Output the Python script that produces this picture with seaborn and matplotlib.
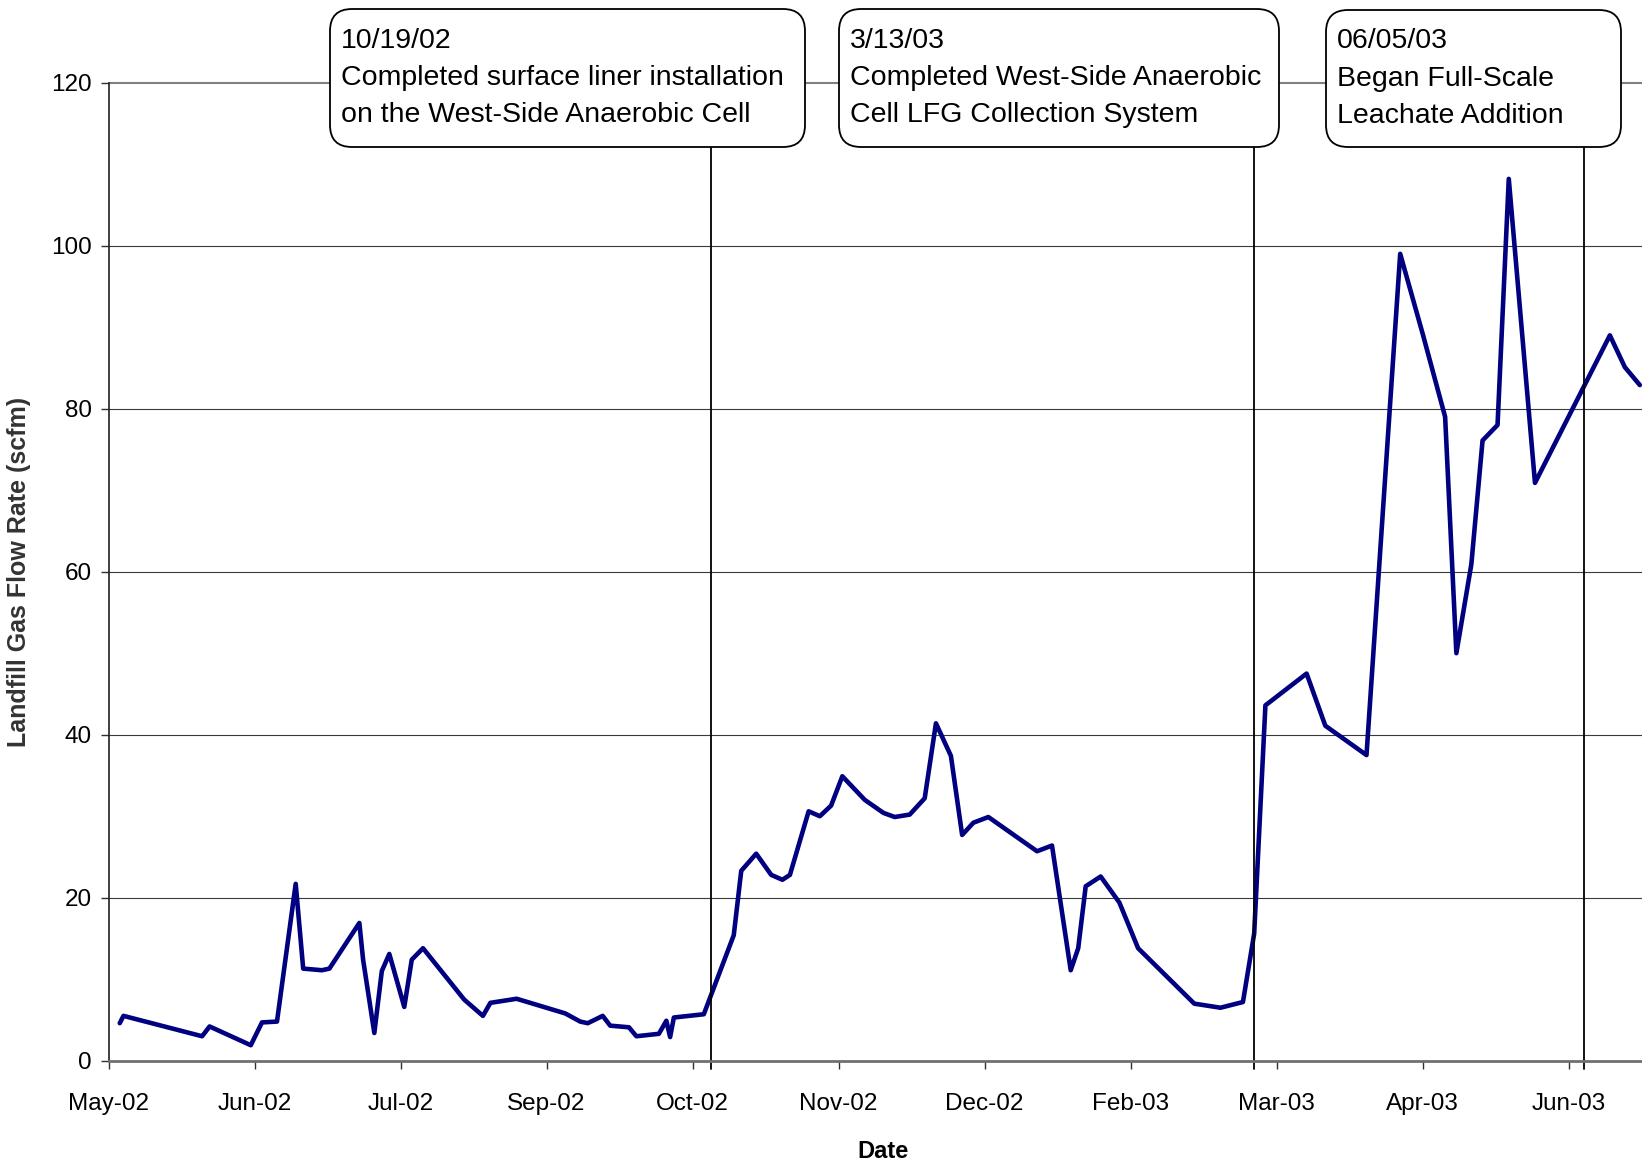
import numpy as np
import pandas as pd
import matplotlib
matplotlib.use("Agg")
import matplotlib.pyplot as plt
import matplotlib.dates as mdates
from matplotlib.patches import FancyBboxPatch
from matplotlib.transforms import IdentityTransform
import seaborn as sns

# ---------------- data ----------------
dates = [
    "2002-05-14", "2002-05-15", "2002-06-05", "2002-06-07", "2002-06-18", "2002-06-21",
    "2002-06-25", "2002-06-30", "2002-07-02", "2002-07-07", "2002-07-09", "2002-07-17",
    "2002-07-18", "2002-07-21", "2002-07-23", "2002-07-25", "2002-07-29", "2002-07-31",
    "2002-08-03", "2002-08-14", "2002-08-19", "2002-08-21", "2002-08-28", "2002-09-10",
    "2002-09-14", "2002-09-16", "2002-09-20", "2002-09-22", "2002-09-27", "2002-09-29",
    "2002-10-05", "2002-10-07", "2002-10-08", "2002-10-09", "2002-10-17", "2002-10-25",
    "2002-10-27", "2002-10-31", "2002-11-04", "2002-11-07", "2002-11-09", "2002-11-14",
    "2002-11-17", "2002-11-20", "2002-11-23", "2002-11-29", "2002-12-04", "2002-12-07",
    "2002-12-11", "2002-12-15", "2002-12-18", "2002-12-22", "2002-12-25", "2002-12-28",
    "2003-01-01", "2003-01-14", "2003-01-18", "2003-01-23", "2003-01-25", "2003-01-27",
    "2003-01-31", "2003-02-05", "2003-02-10", "2003-02-25", "2003-03-04", "2003-03-10",
    "2003-03-13", "2003-03-16", "2003-03-27", "2003-04-01", "2003-04-12", "2003-04-21",
    "2003-04-27", "2003-05-03", "2003-05-06", "2003-05-10", "2003-05-13", "2003-05-17",
    "2003-05-20", "2003-05-27", "2003-06-16", "2003-06-20", "2003-06-24",
]
flow = [
    4.6, 5.5, 3.0, 4.2, 1.9, 4.7,
    4.8, 21.7, 11.3, 11.1, 11.3, 16.9,
    12.4, 3.4, 11.0, 13.1, 6.6, 12.4,
    13.8, 7.5, 5.5, 7.1, 7.6, 5.8,
    4.8, 4.6, 5.5, 4.3, 4.1, 3.0,
    3.3, 4.9, 2.9, 5.3, 5.7, 15.4,
    23.3, 25.4, 22.8, 22.2, 22.8, 30.6,
    30.0, 31.3, 34.9, 32.0, 30.4, 29.9,
    30.2, 32.2, 41.4, 37.4, 27.7, 29.2,
    29.9, 25.7, 26.4, 11.1, 13.8, 21.4,
    22.6, 19.4, 13.8, 7.0, 6.5, 7.2,
    15.6, 43.6, 47.5, 41.1, 37.5, 99.0,
    89.2, 79.0, 50.0, 60.9, 76.1, 78.0,
    108.2, 70.9, 89.0, 85.1, 82.9,
]

tick_start = "2002-05-11"
tick_step_days = 39
n_ticks = 11
x_end = "2003-06-24 14:00"

y_ticks = [0, 20, 40, 60, 80, 100, 120]

event_dates = ["2002-10-19", "2003-03-13", "2003-06-09"]
event_labels = [
    "10/19/02\nCompleted surface liner installation\non the West-Side Anaerobic Cell",
    "3/13/03\nCompleted West-Side Anaerobic\nCell LFG Collection System",
    "06/05/03\nBegan Full-Scale\nLeachate Addition",
]

x_label = "Date"
y_label = "Landfill Gas Flow Rate (scfm)"

# ---------------- layout / style ----------------
W, H = 1642, 1162
# boxes in pixels (left, top, right, bottom) measured from top-left
box_px = [(330, 9, 805, 147), (839, 9, 1279, 147), (1326, 10, 1621, 147)]

sns.set_theme(style="white")
plt.rcParams["font.family"] = ["Liberation Sans", "DejaVu Sans"]

df = pd.DataFrame({"date": pd.to_datetime(dates), "flow": flow})

fig = plt.figure(figsize=(W / 100, H / 100), dpi=100)
ax_left, ax_bottom = 108.5 / W, (H - 1060.7) / H
ax_top = (H - 82.7) / H
ax = fig.add_axes([ax_left, ax_bottom, 1 - ax_left, ax_top - ax_bottom])

# grid lines
for yv in y_ticks[1:]:
    if yv == y_ticks[-1]:
        ax.axhline(yv, color="#808080", lw=1.5, zorder=1, clip_on=False)
    else:
        ax.axhline(yv, color="#3a3a3a", lw=0.8, zorder=1)

sns.lineplot(data=df, x="date", y="flow", ax=ax, color="#000080", lw=3.3,
             estimator=None, sort=False, zorder=2)

ax.set_ylim(0, 120)
ax.set_yticks(y_ticks)
start = pd.Timestamp(tick_start)
ticks = [start + pd.Timedelta(days=tick_step_days * k) for k in range(n_ticks)]
ax.set_xticks(ticks)
ax.xaxis.set_major_formatter(mdates.DateFormatter("%b-%y"))
ax.set_xlim(start, pd.Timestamp(x_end))

for s in ["top", "right"]:
    ax.spines[s].set_visible(False)
ax.spines["left"].set_color("#202020")
ax.spines["left"].set_linewidth(1.2)
ax.spines["bottom"].set_color("#707070")
ax.spines["bottom"].set_linewidth(2.0)
ax.spines["bottom"].set_zorder(4)

ax.tick_params(axis="both", which="major", direction="out", length=6, width=1.0,
               color="#303030", labelsize=17.5, labelcolor="black")
ax.tick_params(axis="x", bottom=True, pad=17)
ax.tick_params(axis="y", left=True, pad=6)

ax.set_xlabel(x_label, fontsize=17, fontweight="bold", color="black")
ax.set_ylabel(y_label, fontsize=18, fontweight="bold", color="#333333")
ax.xaxis.set_label_coords(0.505, -0.081)
ax.yaxis.set_label_coords(-0.0503, 0.5)

# event vertical lines
box_bottom_frac = (1060.7 - 147) / (1060.7 - 82.7)
for d in event_dates:
    ax.axvline(pd.Timestamp(d), ymin=-0.008, ymax=box_bottom_frac, color="black",
               lw=1.3, zorder=3, clip_on=False)

# event boxes
for (l, t, r, b), txt in zip(box_px, event_labels):
    patch = FancyBboxPatch((l, H - b), r - l, b - t,
                           boxstyle="round,pad=0,rounding_size=22",
                           transform=IdentityTransform(), facecolor="white",
                           edgecolor="black", lw=1.3, zorder=5)
    fig.add_artist(patch)
    fig.text((l + 11) / W, 1 - (t + 18.5) / H, txt, ha="left", va="top",
             fontsize=20.5, color="black", linespacing=1.57, zorder=6)

fig.savefig("out.png", dpi=100)
